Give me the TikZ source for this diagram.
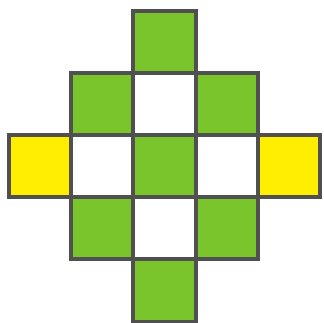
\documentclass[tikz,border=0pt]{standalone}
\usepackage{xcolor}
\usepackage{tikz}
\usetikzlibrary{positioning}

\definecolor{cellgreen}{RGB}{122,196,44}
\definecolor{cellyellow}{RGB}{255,238,0}
\definecolor{edgegray}{RGB}{80,80,80}

\begin{document}
\begin{tikzpicture}[
  node distance=0mm,
  cell/.style={draw=edgegray, line width=1.8pt, minimum size=1cm, inner sep=0pt, outer sep=0pt},
  gcell/.style={cell, fill=cellgreen},
  ycell/.style={cell, fill=cellyellow},
  wcell/.style={cell, fill=white}
]
\useasboundingbox (-0.145,-0.01) rectangle (5.064,5.17);
% middle row
\node[ycell] (c31) at (0.5,2.5) {};
\node[wcell, right=of c31] (c32) {};
\node[gcell, right=of c32] (c33) {};
\node[wcell, right=of c33] (c34) {};
\node[ycell, right=of c34] (c35) {};
% row above
\node[gcell, above=of c32] (c22) {};
\node[wcell, above=of c33] (c23) {};
\node[gcell, above=of c34] (c24) {};
\node[gcell, above=of c23] (c13) {};
% row below
\node[gcell, below=of c32] (c42) {};
\node[wcell, below=of c33] (c43) {};
\node[gcell, below=of c34] (c44) {};
\node[gcell, below=of c43] (c53) {};
\end{tikzpicture}
\end{document}
